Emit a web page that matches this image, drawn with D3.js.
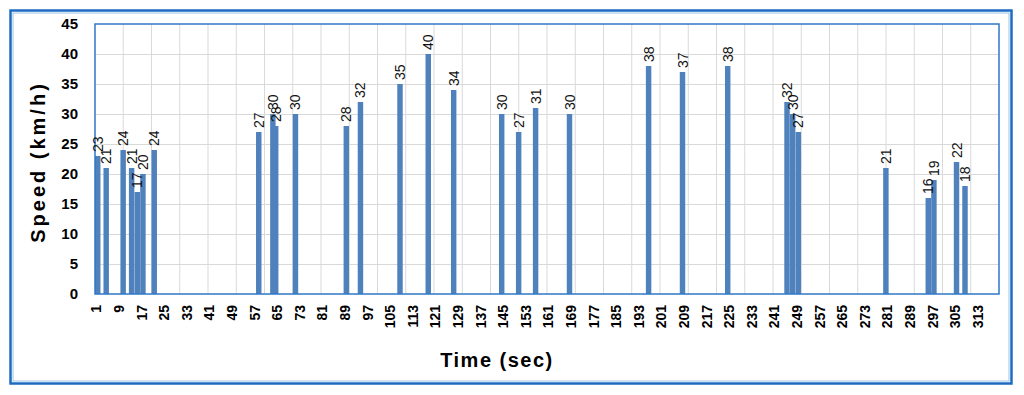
<!DOCTYPE html>
<html>
<head>
<meta charset="utf-8">
<script src="https://cdn.jsdelivr.net/npm/d3@7"></script>
<style>
  body { margin: 0; background: #fff; }
  text { font-family: "Liberation Sans", Arial, sans-serif; }
</style>
</head>
<body>
<svg width="1024" height="395"></svg>
<script>
// seconds 1..320 on the category axis
var categories = d3.range(1, 321);
// seconds that have a bar, and their speed (km/h)
var times  = [1, 4, 10, 13, 15, 17, 21, 58, 63, 64, 71, 89, 94, 108, 118, 127, 144, 150, 156, 168, 196, 208, 224, 245, 247, 249, 280, 295, 297, 305, 308];
var speeds = [23, 21, 24, 21, 17, 20, 24, 27, 30, 28, 30, 28, 32, 35, 40, 34, 30, 27, 31, 30, 38, 37, 38, 32, 30, 27, 21, 16, 19, 22, 18];
var yTicks = [0, 5, 10, 15, 20, 25, 30, 35, 40, 45];
var xLabelStep = 8;   // a label every 8 s
var xGridStep = 10;   // a grid line every 10 s

var data = [];
for (var i = 0; i < times.length; i++) {
	data.push({"t": times[i], "v": speeds[i]});
}

var svg = d3.select("svg");
var pLeft = 95, pRight = 999, pTop = 24, pBottom = 294;

// outer frame
svg.append("rect")
	.attr("x", 10.5).attr("y", 10.5)
	.attr("width", 1001).attr("height", 373)
	.attr("fill", "#fff")
	.attr("stroke", "#1e6cc2")
	.attr("stroke-width", 2.5);
svg.append("rect")
	.attr("x", 13).attr("y", 13)
	.attr("width", 996).attr("height", 368)
	.attr("fill", "none")
	.attr("stroke", "#9cc3ea")
	.attr("stroke-width", 1);

var x = d3.scaleBand().domain(categories).range([pLeft, pRight]).padding(0);
var y = d3.scaleLinear().domain([0, 45]).range([pBottom, pTop]);
var bw = x.bandwidth();

// grid
var grid = svg.append("g").attr("stroke", "#d9d9d9").attr("stroke-width", 1);
grid.selectAll(".hg")
	.data(yTicks.filter(function(d) { return d > 0 && d < 45; }))
	.enter().append("line")
	.attr("x1", pLeft).attr("x2", pRight)
	.attr("y1", function(d) { return Math.round(y(d)) + 0.5; })
	.attr("y2", function(d) { return Math.round(y(d)) + 0.5; });
grid.selectAll(".vg")
	.data(categories.filter(function(d) { return d % xGridStep === 0 && d < 320; }))
	.enter().append("line")
	.attr("x1", function(d) { return x(d) + bw; })
	.attr("x2", function(d) { return x(d) + bw; })
	.attr("y1", pTop).attr("y2", pBottom);

// bars, drawn right to left so an earlier bar sits over a later one
svg.append("g").selectAll("rect")
	.data(data.slice().reverse())
	.enter().append("rect")
	.attr("x", function(d) { return x(d.t); })
	.attr("width", 2 * bw - 0.2)
	.attr("y", function(d) { return y(d.v); })
	.attr("height", function(d) { return y(0) - y(d.v); })
	.attr("fill", "#4f81bd");

// plot border
svg.append("rect")
	.attr("x", pLeft).attr("y", pTop)
	.attr("width", pRight - pLeft).attr("height", pBottom - pTop)
	.attr("fill", "none")
	.attr("stroke", "#2f78c8")
	.attr("stroke-width", 1.5);

// value labels
svg.append("g").selectAll("text")
	.data(data)
	.enter().append("text")
	.attr("transform", function(d) {
		return "translate(" + (x(d.t) + bw) + "," + (y(d.v) - 4) + ") rotate(-90)";
	})
	.attr("dy", "0.35em")
	.attr("font-size", 14)
	.attr("fill", "#111")
	.text(function(d) { return d.v; });

// y axis
var yAxis = svg.append("g")
	.attr("transform", "translate(" + (pLeft - 17) + ",0)")
	.call(d3.axisLeft(y).tickValues(yTicks).tickSize(0).tickPadding(0));
yAxis.select(".domain").remove();
yAxis.selectAll("text")
	.attr("font-size", 15)
	.attr("font-weight", "bold")
	.attr("font-family", "Liberation Sans, Arial, sans-serif")
	.attr("fill", "#000");

// x axis
var xAxis = svg.append("g")
	.attr("transform", "translate(0," + pBottom + ")")
	.call(d3.axisBottom(x)
		.tickValues(categories.filter(function(d) { return (d - 1) % xLabelStep === 0 && d < 320; }))
		.tickSize(0));
xAxis.select(".domain").remove();
xAxis.selectAll("text")
	.attr("font-size", 14)
	.attr("font-weight", "bold")
	.attr("font-family", "Liberation Sans, Arial, sans-serif")
	.attr("fill", "#000")
	.attr("text-anchor", "end")
	.attr("transform", "translate(0,11) rotate(-90)")
	.attr("x", 0).attr("y", 0)
	.attr("dy", "0.35em");

// axis titles
svg.append("text")
	.attr("x", 497).attr("y", 367)
	.attr("text-anchor", "middle")
	.attr("font-size", 20)
	.attr("font-weight", "bold")
	.attr("letter-spacing", 1.5)
	.text("Time (sec)");

svg.append("text")
	.attr("transform", "translate(45,162) rotate(-90)")
	.attr("text-anchor", "middle")
	.attr("font-size", 20)
	.attr("font-weight", "bold")
	.attr("letter-spacing", 3)
	.text("Speed (km/h)");
</script>
</body>
</html>
